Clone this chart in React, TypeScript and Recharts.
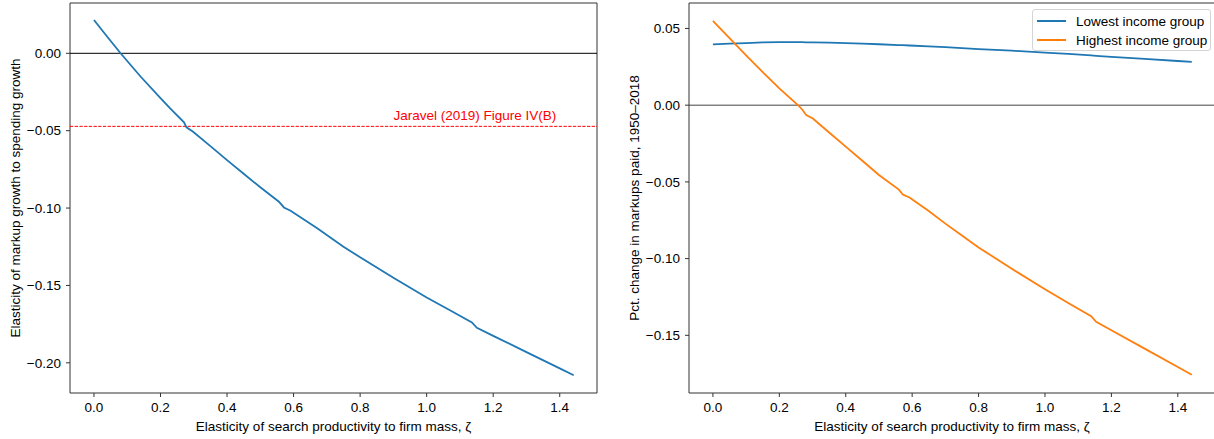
import React from 'react';
import {
  LineChart,
  Line,
  XAxis,
  YAxis,
  ReferenceLine,
  ReferenceArea,
  ReferenceDot,
  Legend,
} from 'recharts';

// ---------- data ----------
const leftZeta = [0, 0.04, 0.08, 0.14, 0.2, 0.229, 0.2707, 0.278, 0.298, 0.35, 0.4, 0.45, 0.5, 0.556, 0.571, 0.591, 0.671, 0.75, 0.8, 0.9, 1.0, 1.07, 1.136, 1.151, 1.2, 1.3, 1.4, 1.442];
const markupElasticity = [0.0215, 0.0107, 0.0, -0.015, -0.029, -0.0356, -0.0446, -0.0478, -0.0507, -0.06, -0.069, -0.0778, -0.0866, -0.0959, -0.0996, -0.1017, -0.1131, -0.125, -0.1318, -0.145, -0.1578, -0.166, -0.1739, -0.1774, -0.1826, -0.1931, -0.2036, -0.208];

const rightZeta = [0, 0.05, 0.1, 0.15, 0.2, 0.256, 0.269, 0.281, 0.301, 0.35, 0.4, 0.45, 0.5, 0.56, 0.572, 0.592, 0.65, 0.7, 0.75, 0.8, 0.9, 1.0, 1.07, 1.139, 1.154, 1.2, 1.3, 1.4, 1.442];
const lowestIncome = [0.0396, 0.0401, 0.0405, 0.0409, 0.0411, 0.0411, 0.0411, 0.041, 0.041, 0.0408, 0.0405, 0.0401, 0.0397, 0.0392, 0.0391, 0.0389, 0.0383, 0.0378, 0.0372, 0.0366, 0.0355, 0.0343, 0.0334, 0.0324, 0.0322, 0.0315, 0.0302, 0.0288, 0.0282];
const highestIncome = [0.055, 0.0437, 0.0325, 0.0216, 0.011, 0.0, -0.0028, -0.0065, -0.0087, -0.0178, -0.027, -0.0362, -0.0455, -0.055, -0.0582, -0.0602, -0.069, -0.0772, -0.085, -0.0927, -0.1066, -0.12, -0.129, -0.1375, -0.1412, -0.1467, -0.1587, -0.1707, -0.1757];

const xTicks = [0, 0.2, 0.4, 0.6, 0.8, 1.0, 1.2, 1.4];
const leftYTicks = [-0.2, -0.15, -0.1, -0.05, 0];
const rightYTicks = [-0.15, -0.1, -0.05, 0, 0.05];

const jaravelValue = -0.0472;
const jaravelLabel = 'Jaravel (2019) Figure IV(B)';
const jaravelLabelX = 0.9;
const jaravelLabelY = -0.0431;

const xLabel = 'Elasticity of search productivity to firm mass, \u03b6';
const leftYLabel = 'Elasticity of markup growth to spending growth';
const rightYLabel = 'Pct. change in markups paid, 1950\u20132018';
const lowestName = 'Lowest income group';
const highestName = 'Highest income group';
const legendOrder = [lowestName, highestName];

// ---------- styling ----------
const FONT = '"Liberation Sans", Arial, Helvetica, sans-serif';
const FS = 13.5;
const SPINE = '#333';
const BLUE = '#1f77b4';
const ORANGE = '#ff7f0e';

const xDomain: [number, number] = [-0.072, 1.512];
const leftYDomain: [number, number] = [-0.2195, 0.0325];
const rightYDomain: [number, number] = [-0.1876, 0.0666];

const fmt = (d: number) => (v: number) => {
  const s = Math.abs(v) < 1e-12 ? (0).toFixed(d) : v.toFixed(d);
  return s.replace('-', '\u2212');
};

const leftData = leftZeta.map((z, i) => ({ zeta: z, elasticity: markupElasticity[i] }));
const rightData = rightZeta.map((z, i) => ({ zeta: z, lowest: lowestIncome[i], highest: highestIncome[i] }));

const tickStyle = { fill: '#000', fontSize: FS, fontFamily: FONT };

const LegendBox = (props: any) => {
  const payload = [...(props.payload || [])].sort(
    (a: any, b: any) => legendOrder.indexOf(a.value) - legendOrder.indexOf(b.value)
  );
  return (
    <div
      style={{
        width: 179,
        height: 42,
        boxSizing: 'border-box',
        border: '1px solid #d4d4d4',
        borderRadius: 3,
        background: 'rgba(255,255,255,0.85)',
        fontFamily: FONT,
        fontSize: FS,
        position: 'relative',
      }}
    >
      {payload.map((p: any, i: number) => (
        <div
          key={i}
          style={{ position: 'absolute', left: 0, top: 2 + i * 19, height: 18, display: 'flex', alignItems: 'center', whiteSpace: 'nowrap' }}
        >
          <div style={{ marginLeft: 4, width: 29, height: 2, background: p.color }} />
          <span style={{ marginLeft: 10, color: '#000' }}>{p.value}</span>
        </div>
      ))}
    </div>
  );
};

export default function App() {
  return (
    <div style={{ position: 'fixed', left: 0, top: 0, width: 1214, height: 439, overflow: 'hidden', background: '#fff' }}>
      <div style={{ position: 'absolute', left: 0, top: 0 }}>
        <LineChart width={600} height={439} data={leftData} margin={{ top: 3, right: 3, bottom: 0, left: 0 }} style={{ fontFamily: FONT }}>
          <XAxis
            dataKey="zeta"
            type="number"
            domain={xDomain}
            ticks={xTicks}
            allowDataOverflow
            tickFormatter={fmt(1)}
            tick={tickStyle}
            tickSize={4}
            tickMargin={5}
            axisLine={false}
            tickLine={{ stroke: SPINE }}
            height={46}
            label={{ value: xLabel, position: 'insideBottom', offset: 8, fill: '#000', fontSize: FS, fontFamily: FONT }}
          />
          <YAxis
            type="number"
            domain={leftYDomain}
            ticks={leftYTicks}
            allowDataOverflow
            tickFormatter={fmt(2)}
            tick={tickStyle}
            tickSize={4}
            tickMargin={5}
            axisLine={false}
            tickLine={{ stroke: SPINE }}
            width={70}
            label={{ value: leftYLabel, angle: -90, position: 'insideLeft', offset: 15, fill: '#000', fontSize: FS, fontFamily: FONT, style: { textAnchor: 'middle' } }}
          />
          <ReferenceArea x1={xDomain[0]} x2={xDomain[1]} y1={leftYDomain[0]} y2={leftYDomain[1]} fill="none" fillOpacity={0} stroke={SPINE} strokeWidth={1} ifOverflow="visible" />
          <ReferenceLine y={0} stroke="#000" strokeWidth={1} />
          <ReferenceLine y={jaravelValue} stroke="#ff0000" strokeWidth={1} strokeDasharray="3.3 1.4" />
          <ReferenceDot
            x={jaravelLabelX}
            y={jaravelLabelY}
            r={0}
            ifOverflow="visible"
            shape={(p: any) => (
              <text x={p.cx} y={p.cy} fill="#ff0000" fontSize={FS} fontFamily={FONT} textAnchor="start">
                {jaravelLabel}
              </text>
            )}
          />
          <Line type="linear" dataKey="elasticity" stroke={BLUE} strokeWidth={1.8} dot={false} isAnimationActive={false} />
        </LineChart>
      </div>
      <div style={{ position: 'absolute', left: 614, top: 0 }}>
        <LineChart width={604} height={439} data={rightData} margin={{ top: 3, right: 3, bottom: 0, left: 0 }} style={{ fontFamily: FONT }}>
          <XAxis
            dataKey="zeta"
            type="number"
            domain={xDomain}
            ticks={xTicks}
            allowDataOverflow
            tickFormatter={fmt(1)}
            tick={tickStyle}
            tickSize={4}
            tickMargin={5}
            axisLine={false}
            tickLine={{ stroke: SPINE }}
            height={46}
            label={{ value: xLabel, position: 'insideBottom', offset: 8, fill: '#000', fontSize: FS, fontFamily: FONT }}
          />
          <YAxis
            type="number"
            domain={rightYDomain}
            ticks={rightYTicks}
            allowDataOverflow
            tickFormatter={fmt(2)}
            tick={tickStyle}
            tickSize={4}
            tickMargin={5}
            axisLine={false}
            tickLine={{ stroke: SPINE }}
            width={75}
            label={{ value: rightYLabel, angle: -90, position: 'insideLeft', offset: 20, fill: '#000', fontSize: FS, fontFamily: FONT, style: { textAnchor: 'middle' } }}
          />
          <ReferenceArea x1={xDomain[0]} x2={xDomain[1]} y1={rightYDomain[0]} y2={rightYDomain[1]} fill="none" fillOpacity={0} stroke={SPINE} strokeWidth={1} ifOverflow="visible" />
          <ReferenceLine y={0} stroke="#444" strokeWidth={1} />
          <Legend
            layout="horizontal"
            verticalAlign="middle"
            align="center"
            width={179}
            wrapperStyle={{ top: 9, left: 418, width: 179, height: 42 }}
            content={(p: any) => <LegendBox {...p} />}
          />
          <Line type="linear" dataKey="lowest" name={lowestName} stroke={BLUE} strokeWidth={1.8} dot={false} isAnimationActive={false} />
          <Line type="linear" dataKey="highest" name={highestName} stroke={ORANGE} strokeWidth={1.8} dot={false} isAnimationActive={false} />
        </LineChart>
      </div>
    </div>
  );
}
